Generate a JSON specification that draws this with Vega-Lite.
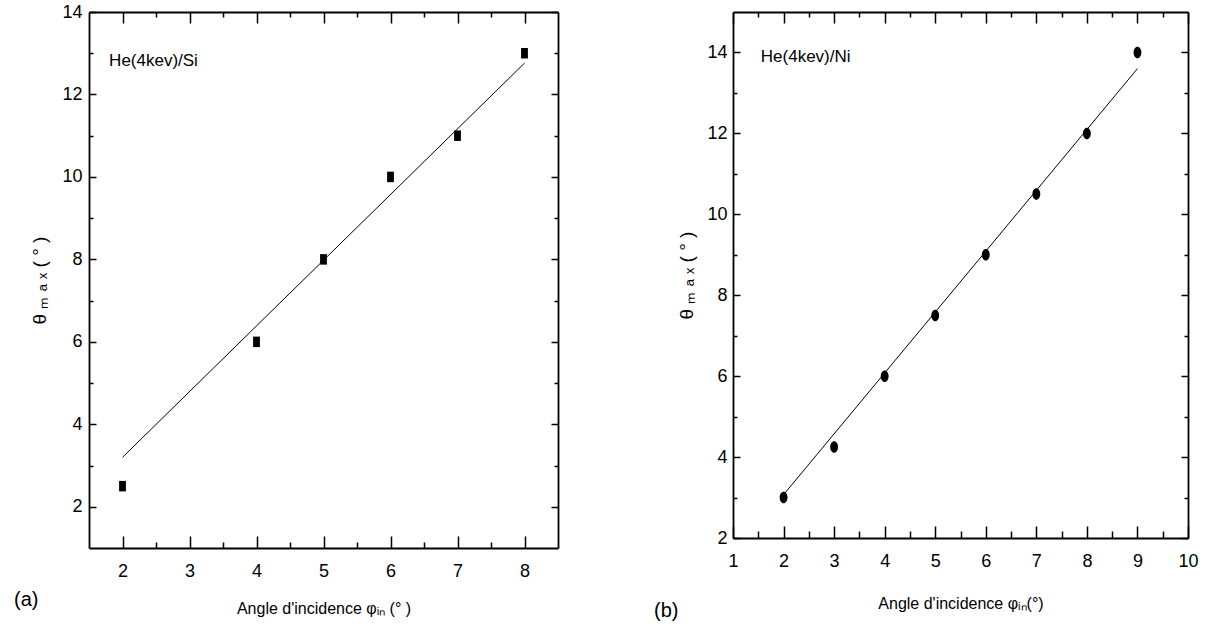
{
  "$schema": "https://vega.github.io/schema/vega-lite/v6.json",
  "background": "white",
  "padding": {"left": 14, "top": 3, "right": 5, "bottom": 5},
  "spacing": 95,
  "config": {
    "view": {"stroke": null},
    "font": "Liberation Sans, Arial, sans-serif",
    "axis": {
      "grid": false,
      "domainColor": "black",
      "domainWidth": 1.8,
      "tickColor": "black",
      "tickWidth": 1.5,
      "labelColor": "black",
      "labelFontSize": 18,
      "labelFont": "Liberation Sans, Arial, sans-serif",
      "titleFont": "Liberation Sans, Arial, sans-serif",
      "titleColor": "black",
      "titleFontSize": 16,
      "titleFontWeight": "normal",
      "labelFlush": false,
      "labelOverlap": false
    },
    "title": {
      "font": "Liberation Sans, Arial, sans-serif",
      "fontSize": 20,
      "fontWeight": "normal",
      "color": "black"
    }
  },
  "datasets": {
    "si_points": [
      {"phi_in": 2, "theta_max": 2.5},
      {"phi_in": 4, "theta_max": 6},
      {"phi_in": 5, "theta_max": 8},
      {"phi_in": 6, "theta_max": 10},
      {"phi_in": 7, "theta_max": 11},
      {"phi_in": 8, "theta_max": 13}
    ],
    "si_fit": [
      {"phi_in": 2, "theta_max": 3.2},
      {"phi_in": 8, "theta_max": 12.76}
    ],
    "si_label": [{"phi_in": 1.8, "theta_max": 12.8, "label": "He(4kev)/Si"}],
    "ni_points": [
      {"phi_in": 2, "theta_max": 3},
      {"phi_in": 3, "theta_max": 4.25},
      {"phi_in": 4, "theta_max": 6},
      {"phi_in": 5, "theta_max": 7.5},
      {"phi_in": 6, "theta_max": 9},
      {"phi_in": 7, "theta_max": 10.5},
      {"phi_in": 8, "theta_max": 12},
      {"phi_in": 9, "theta_max": 14}
    ],
    "ni_fit": [
      {"phi_in": 2, "theta_max": 3.07},
      {"phi_in": 9, "theta_max": 13.6}
    ],
    "ni_label": [{"phi_in": 1.55, "theta_max": 13.9, "label": "He(4kev)/Ni"}]
  },
  "hconcat": [
    {
      "width": 469,
      "height": 536,
      "title": {"text": "(a)", "orient": "bottom", "anchor": "start", "frame": "group", "dx": -75, "dy": -30},
      "resolve": {"axis": {"x": "independent", "y": "independent"}},
      "layer": [
        {
          "data": {"name": "si_points"},
          "mark": {"type": "point", "shape": "M-0.65,-1L0.65,-1L0.65,1L-0.65,1Z", "filled": true, "color": "black", "opacity": 1, "size": 110},
          "encoding": {
            "x": {
              "field": "phi_in", "type": "quantitative",
              "scale": {"domain": [1.5, 8.5], "nice": false, "zero": false},
              "axis": {
                "orient": "bottom",
                "title": "Angle d'incidence φᵢₙ (° )",
                "values": [2, 2.5, 3, 3.5, 4, 4.5, 5, 5.5, 6, 6.5, 7, 7.5, 8],
                "labelExpr": "datum.value % 1 === 0 ? format(datum.value, 'd') : ''",
                "tickSize": {"condition": {"test": "datum.value % 1 === 0", "value": -12}, "value": -6},
                "labelPadding": 26,
                "titlePadding": 14
              }
            },
            "y": {
              "field": "theta_max", "type": "quantitative",
              "scale": {"domain": [1, 14], "nice": false, "zero": false},
              "axis": {
                "orient": "left",
                "title": "θ ₘ ₐ ₓ  (  °  )",
                "titleFontSize": 19,
                "values": [2, 3, 4, 5, 6, 7, 8, 9, 10, 11, 12, 13, 14],
                "labelExpr": "datum.value % 2 === 0 ? format(datum.value, 'd') : ''",
                "tickSize": {"condition": {"test": "datum.value % 2 === 0", "value": -7}, "value": -4},
                "labelPadding": 14,
                "titlePadding": 12
              }
            }
          }
        },
        {
          "data": {"name": "si_fit"},
          "mark": {"type": "line", "color": "black", "strokeWidth": 1},
          "encoding": {
            "x": {
              "field": "phi_in", "type": "quantitative",
              "scale": {"domain": [1.5, 8.5], "nice": false, "zero": false},
              "axis": {
                "orient": "top", "title": null, "labels": false,
                "values": [2, 2.5, 3, 3.5, 4, 4.5, 5, 5.5, 6, 6.5, 7, 7.5, 8],
                "tickSize": {"condition": {"test": "datum.value % 1 === 0", "value": -11}, "value": -5}
              }
            },
            "y": {
              "field": "theta_max", "type": "quantitative",
              "scale": {"domain": [1, 14], "nice": false, "zero": false},
              "axis": {
                "orient": "right", "title": null, "labels": false,
                "values": [2, 3, 4, 5, 6, 7, 8, 9, 10, 11, 12, 13, 14],
                "tickSize": {"condition": {"test": "datum.value % 2 === 0", "value": -7}, "value": -4}
              }
            }
          }
        },
        {
          "data": {"name": "si_label"},
          "mark": {"type": "text", "align": "left", "baseline": "middle", "fontSize": 17, "color": "black"},
          "encoding": {
            "x": {"field": "phi_in", "type": "quantitative", "scale": {"domain": [1.5, 8.5], "nice": false, "zero": false}, "axis": null},
            "y": {"field": "theta_max", "type": "quantitative", "scale": {"domain": [1, 14], "nice": false, "zero": false}, "axis": null},
            "text": {"field": "label"}
          }
        }
      ]
    },
    {
      "width": 455,
      "height": 526,
      "title": {"text": "(b)", "orient": "bottom", "anchor": "start", "frame": "group", "dx": -79, "dy": -14},
      "resolve": {"axis": {"x": "independent", "y": "independent"}},
      "layer": [
        {
          "data": {"name": "ni_points"},
          "mark": {"type": "point", "shape": "M0,-1A0.68,1 0 1,1 0,1A0.68,1 0 1,1 0,-1Z", "filled": true, "color": "black", "opacity": 1, "size": 132},
          "encoding": {
            "x": {
              "field": "phi_in", "type": "quantitative",
              "scale": {"domain": [1, 10], "nice": false, "zero": false},
              "axis": {
                "orient": "bottom",
                "title": "Angle d'incidence φᵢₙ(°)",
                "values": [1, 1.5, 2, 2.5, 3, 3.5, 4, 4.5, 5, 5.5, 6, 6.5, 7, 7.5, 8, 8.5, 9, 9.5, 10],
                "labelExpr": "datum.value % 1 === 0 ? format(datum.value, 'd') : ''",
                "tickSize": {"condition": {"test": "datum.value % 1 === 0", "value": -12}, "value": -7},
                "labelPadding": 26,
                "titlePadding": 20
              }
            },
            "y": {
              "field": "theta_max", "type": "quantitative",
              "scale": {"domain": [2, 15], "nice": false, "zero": false},
              "axis": {
                "orient": "left",
                "title": "θ ₘ ₐ ₓ  (  °  )",
                "titleFontSize": 19,
                "values": [2, 3, 4, 5, 6, 7, 8, 9, 10, 11, 12, 13, 14],
                "labelExpr": "datum.value % 2 === 0 ? format(datum.value, 'd') : ''",
                "tickSize": {"condition": {"test": "datum.value % 2 === 0", "value": -7}, "value": -4},
                "labelPadding": 13,
                "titlePadding": 10
              }
            }
          }
        },
        {
          "data": {"name": "ni_fit"},
          "mark": {"type": "line", "color": "black", "strokeWidth": 1},
          "encoding": {
            "x": {
              "field": "phi_in", "type": "quantitative",
              "scale": {"domain": [1, 10], "nice": false, "zero": false},
              "axis": {
                "orient": "top", "title": null, "labels": false,
                "values": [1, 1.5, 2, 2.5, 3, 3.5, 4, 4.5, 5, 5.5, 6, 6.5, 7, 7.5, 8, 8.5, 9, 9.5, 10],
                "tickSize": {"condition": {"test": "datum.value % 1 === 0", "value": -11}, "value": -5}
              }
            },
            "y": {
              "field": "theta_max", "type": "quantitative",
              "scale": {"domain": [2, 15], "nice": false, "zero": false},
              "axis": {
                "orient": "right", "title": null, "labels": false,
                "values": [2, 3, 4, 5, 6, 7, 8, 9, 10, 11, 12, 13, 14],
                "tickSize": {"condition": {"test": "datum.value % 2 === 0", "value": -7}, "value": -4}
              }
            }
          }
        },
        {
          "data": {"name": "ni_label"},
          "mark": {"type": "text", "align": "left", "baseline": "middle", "fontSize": 17, "color": "black"},
          "encoding": {
            "x": {"field": "phi_in", "type": "quantitative", "scale": {"domain": [1, 10], "nice": false, "zero": false}, "axis": null},
            "y": {"field": "theta_max", "type": "quantitative", "scale": {"domain": [2, 15], "nice": false, "zero": false}, "axis": null},
            "text": {"field": "label"}
          }
        }
      ]
    }
  ]
}
